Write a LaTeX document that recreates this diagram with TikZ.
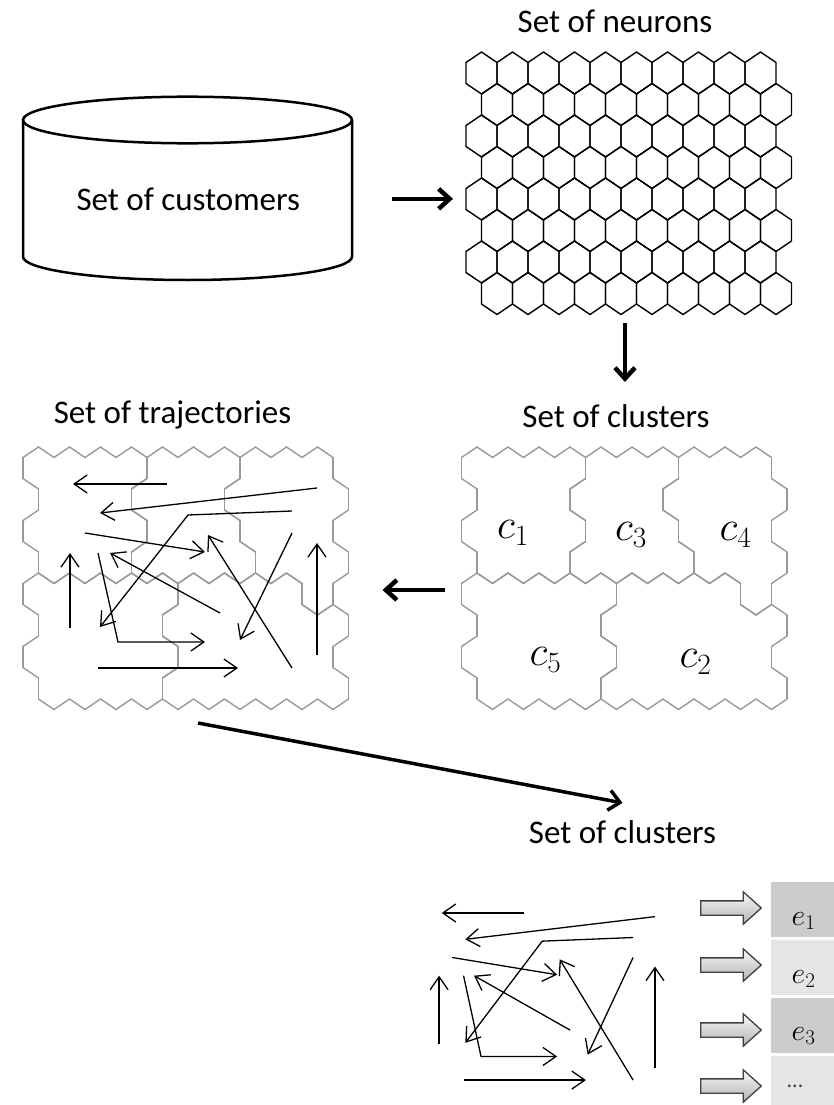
\RequirePackage{fix-cm}
\documentclass[tikz,border=0pt]{standalone}
\usepackage{fontspec}
\setmainfont{Carlito}
\usetikzlibrary{arrows.meta,calc,positioning,shapes.arrows}
% cluster of every cell of the 10x8 map, row by row
\def\clusmap{{1,1,1,1,3,3,3,4,4,4,%
  1,1,1,3,3,3,4,4,4,4,%
  1,1,1,1,3,3,3,4,4,4,%
  1,1,1,3,3,3,3,4,4,4,%
  5,5,5,5,5,2,2,2,2,4,%
  5,5,5,5,2,2,2,2,2,2,%
  5,5,5,5,5,2,2,2,2,2,%
  5,5,5,5,2,2,2,2,2,2}}
\newcommand{\cellof}[2]{%
  \def\cellv{0}%
  \ifnum#1>-1 \ifnum#1<8 \ifnum#2>-1 \ifnum#2<10
    \pgfmathtruncatemacro\cellv{\clusmap[#1*10+#2]}%
  \fi\fi\fi\fi}
\newcommand{\clusedge}[4]{%
  \cellof{#1}{#2}%
  \ifnum\cellv=\cellme\relax\else\draw[clusline] #3 -- #4;\fi}
\newcommand{\neurgrid}{%
  \foreach \r in {0,...,7}{%
    \foreach \c in {0,...,9}{%
      \pgfmathsetmacro\hx{15.5+31*\c+15.5*mod(\r,2)}%
      \pgfmathsetmacro\hy{21+31.5*\r}%
      \draw[hexline] (\hx,\hy-21) -- (\hx+15.5,\hy-10.5) -- (\hx+15.5,\hy+10.5)
        -- (\hx,\hy+21) -- (\hx-15.5,\hy+10.5) -- (\hx-15.5,\hy-10.5) -- cycle;
    }}}
\newcommand{\clusgrid}{%
  \foreach \r in {0,...,7}{%
    \foreach \c in {0,...,9}{%
      \pgfmathtruncatemacro\sh{mod(\r,2)}%
      \pgfmathsetmacro\hx{15.5+31*\c+15.5*\sh}%
      \pgfmathsetmacro\hy{21+31.5*\r}%
      \cellof{\r}{\c}\let\cellme\cellv
      \pgfmathtruncatemacro\ru{\r-1}%
      \pgfmathtruncatemacro\rd{\r+1}%
      \pgfmathtruncatemacro\ce{\c+1}%
      \pgfmathtruncatemacro\cw{\c-1}%
      \pgfmathtruncatemacro\cp{\c+\sh}%
      \pgfmathtruncatemacro\cm{\c+\sh-1}%
      \clusedge{\ru}{\cp}{(\hx,\hy-21)}{(\hx+15.5,\hy-10.5)}%
      \clusedge{\r}{\ce}{(\hx+15.5,\hy-10.5)}{(\hx+15.5,\hy+10.5)}%
      \clusedge{\rd}{\cp}{(\hx+15.5,\hy+10.5)}{(\hx,\hy+21)}%
      \clusedge{\rd}{\cm}{(\hx,\hy+21)}{(\hx-15.5,\hy+10.5)}%
      \clusedge{\r}{\cw}{(\hx-15.5,\hy+10.5)}{(\hx-15.5,\hy-10.5)}%
      \clusedge{\ru}{\cm}{(\hx-15.5,\hy-10.5)}{(\hx,\hy-21)}%
    }}}
\newcommand{\trajs}{%
  \draw[trjpfeil] (144,37) -- (50,37);
  \draw[trjpfeil] (294,41) -- (77,66);
  \draw[trjpfeil] (269,64) -- (165,68) -- (77,180);
  \draw[trjpfeil] (62,86) -- (182,105);
  \draw[trjpfeil] (47,181) -- (47,106);
  \draw[trjpfeil] (75,106) -- (95,195) -- (182,195);
  \draw[trjpfeil] (197,166) -- (87,106);
  \draw[trjpfeil] (269,221) -- (185,88);
  \draw[trjpfeil] (269,86) -- (217,193);
  \draw[trjpfeil] (294,208) -- (294,96);
  \draw[trjpfeil] (75,221) -- (215,221);}

\begin{document}
\begin{tikzpicture}
[x=1pt, y=-1pt,
 font=\fontsize{33}{40}\selectfont,
 titl/.style={inner sep=0pt, anchor=base},
 frame/.style={inner sep=0pt, outer sep=0pt, draw=none},
 hexline/.style={line width=1.4pt, line join=round},
 clusline/.style={line width=1.4pt, black!40, line cap=round},
 dbline/.style={line width=2.5pt},
 bigpfeil/.style={-{Straight Barb[length=11pt,width=20pt]}, line width=4.5pt},
 trjpfeil/.style={-{Straight Barb[length=13pt,width=18pt]}, line width=1.3pt},
 blkpfeil/.style={single arrow, draw=black!75, line width=1.3pt, top color=gray!5, bottom color=gray!60,
   inner xsep=0pt, inner ysep=6.5pt, minimum height=60.6pt, single arrow head extend=9pt, single arrow tip angle=84},
 ebox/.style={minimum width=64pt, minimum height=55pt, inner sep=0pt, outer sep=0pt},
 clab/.style={font=\fontsize{42}{46}\selectfont},
 elab/.style={font=\fontsize{30}{34}\selectfont, anchor=base west, inner sep=0pt}]
\useasboundingbox (0,0) rectangle (834,1105);
% customers
\node[frame, minimum width=329pt, minimum height=183.3pt] (custdb) at (187.5,188.35) {};
\node[titl] (custlbl) at (188.3,210) {Set of customers};
\draw[dbline] ($(custdb.north)+(0,23.3)$) ellipse [x radius=164.5pt, y radius=23.3pt];
\draw[dbline] ($(custdb.north west)+(0,23.3)$) -- ($(custdb.south west)+(0,-23.3)$)
  arc[start angle=180, end angle=360, x radius=164.5pt, y radius=23.3pt] -- ($(custdb.north east)+(0,23.3)$);
% maps
\node[frame, minimum width=325.5pt, minimum height=262.5pt, anchor=north west] (neurons) at (466,52) {};
\node[frame, minimum width=325.5pt, minimum height=262.5pt, anchor=north west] (clusmap) at (461.5,447) {};
\node[frame, minimum width=325.5pt, minimum height=262.5pt, anchor=north west] (trajmap) at (23,447) {};
\begin{scope}[shift={(neurons.north west)}]
  \neurgrid
\end{scope}
\begin{scope}[shift={(clusmap.north west)}]
  \clusgrid
\end{scope}
\begin{scope}[shift={(trajmap.north west)}]
  \clusgrid
  \trajs
\end{scope}
\begin{scope}[shift={(398,879.4)}, xscale=0.874, yscale=0.908]
  \trajs
\end{scope}
% titles
\node[titl] (ntitle) at (615,33) {Set of neurons};
\node[titl] (ctitle) at (616,427) {Set of clusters};
\node[titl] (ttitle) at (172.5,423) {Set of trajectories};
\node[titl] (xtitle) at (622.5,843) {Set of clusters};
% cluster labels
\node[clab] (cone)   at (513,533) {$c_1$};
\node[clab] (cthree) at (631,535) {$c_3$};
\node[clab] (cfour)  at (735.5,535) {$c_4$};
\node[clab] (cfive)  at (545.5,660) {$c_5$};
\node[clab] (ctwo)   at (695.5,662) {$c_2$};
% flow arrows
\coordinate (a1) at ([yshift=-10.5pt]custdb.east);
\draw[bigpfeil, shorten <=40pt, shorten >=13pt] (a1) -- (a1 -| neurons.west);
\coordinate (a2) at ([xshift=-3.75pt]neurons.south);
\draw[bigpfeil, shorten <=8.5pt, shorten >=65pt] (a2) -- (a2 |- clusmap.north);
\coordinate (a3) at ([yshift=-11.75pt]clusmap.west);
\draw[bigpfeil, shorten <=16.5pt, shorten >=34pt] (a3) -- (a3 -| trajmap.east);
\draw[bigpfeil, line width=3.5pt] ([xshift=12.25pt,yshift=-13.5pt]trajmap.south) -- ([yshift=17pt]xtitle.north);
% explanations
\node[ebox, fill=gray!40] (ebox1) at (803,909.2) {};
\node[ebox, fill=gray!20] (ebox2) at (803,967) {};
\node[ebox, fill=gray!40] (ebox3) at (803,1025.3) {};
\node[ebox, fill=gray!20] (ebox4) at (803,1083.5) {};
\node[blkpfeil] (barr1) at (727,908) {};
\node[blkpfeil] (barr2) at (727,965) {};
\node[blkpfeil] (barr3) at (727,1030) {};
\node[blkpfeil] (barr4) at (727,1086) {};
\node[elab] (elbl1) at (791.5,925) {$e_1$};
\node[elab] (elbl2) at (791.5,983) {$e_2$};
\node[elab] (elbl3) at (791.5,1040) {$e_3$};
\node[font=\fontsize{22}{24}\selectfont, text=black!75] (elbl4) at (795,1086) {...};
\end{tikzpicture}
\end{document}
